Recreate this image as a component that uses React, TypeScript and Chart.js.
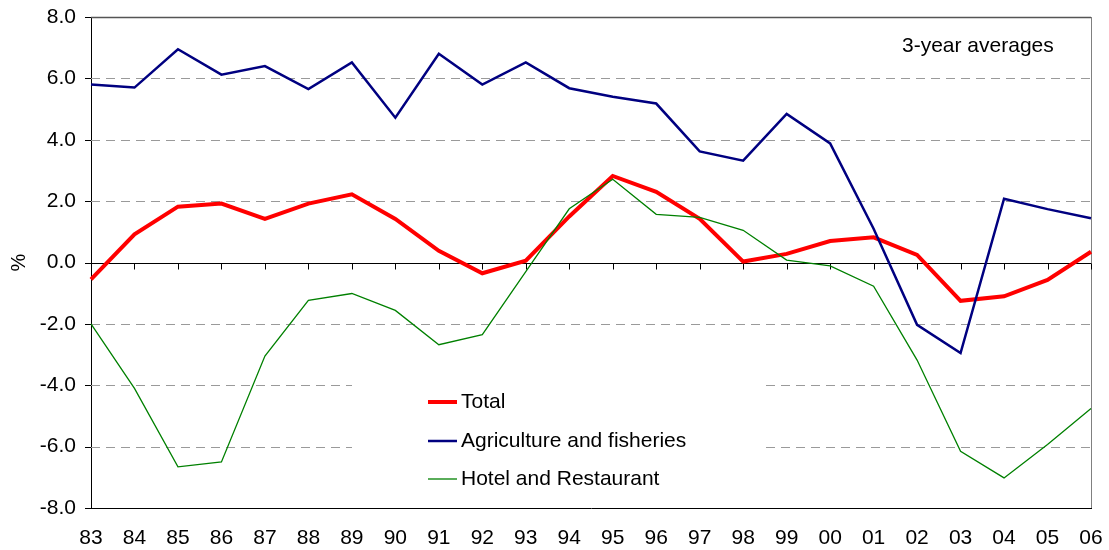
import React, { useEffect, useRef } from "react";
import { Chart, registerables } from "chart.js";

Chart.register(...registerables);

const years = ["83","84","85","86","87","88","89","90","91","92","93","94","95","96","97","98","99","00","01","02","03","04","05","06"];
const total = [-0.55,0.92,1.82,1.92,1.42,1.92,2.22,1.42,0.38,-0.35,0.06,1.5,2.82,2.3,1.42,0.03,0.28,0.7,0.82,0.25,-1.25,-1.1,-0.57,0.35];
const agriculture = [5.8,5.7,6.95,6.12,6.4,5.65,6.52,4.72,6.8,5.8,6.52,5.68,5.4,5.18,3.62,3.32,4.84,3.88,1.1,-2.03,-2.95,2.08,1.74,1.44];
const hotel = [-2.0,-4.1,-6.66,-6.5,-3.05,-1.23,-1.01,-1.56,-2.68,-2.35,-0.3,1.75,2.71,1.57,1.47,1.05,0.08,-0.11,-0.77,-3.18,-6.15,-7.02,-5.93,-4.76];
const yTicks = [-8, -6, -4, -2, 0, 2, 4, 6, 8];
const seriesNames = ["Total", "Agriculture and fisheries", "Hotel and Restaurant"];
const seriesColors = ["#FF0000", "#000080", "#008000"];
const seriesWidths = [4, 2.5, 1.3];
const noteText = "3-year averages";
const yTitle = "%";

const FONT = "'Liberation Sans', Arial, sans-serif";

const decorPlugin = {
  id: "decor",
  beforeDatasetsDraw(chart: any) {
    const { ctx, chartArea: a, scales } = chart;
    const y = scales.y;
    const x = scales.x;
    ctx.save();
    ctx.strokeStyle = "#9a9a9a";
    ctx.lineWidth = 1;
    ctx.setLineDash([9, 6]);
    yTicks.forEach((v) => {
      if (v === 0 || v === 8 || v === -8) return;
      const py = Math.round(y.getPixelForValue(v)) + 0.5;
      ctx.beginPath();
      ctx.moveTo(a.left, py);
      ctx.lineTo(a.right, py);
      ctx.stroke();
    });
    ctx.setLineDash([]);
    ctx.fillStyle = "#ffffff";
    ctx.fillRect(352, 372, 410, 126);
    ctx.strokeStyle = "#555555";
    ctx.lineWidth = 1.5;
    ctx.beginPath();
    ctx.moveTo(a.left, a.top + 0.5);
    ctx.lineTo(a.right, a.top + 0.5);
    ctx.stroke();
    ctx.strokeStyle = "#808080";
    ctx.lineWidth = 1;
    ctx.beginPath();
    ctx.moveTo(a.right + 0.5, a.top);
    ctx.lineTo(a.right + 0.5, a.bottom);
    ctx.stroke();
    const zy = Math.round(y.getPixelForValue(0)) + 0.5;
    ctx.strokeStyle = "#000000";
    ctx.lineWidth = 1;
    ctx.beginPath();
    ctx.moveTo(a.left, zy);
    ctx.lineTo(a.right, zy);
    years.forEach((_, i) => {
      const px = Math.round(x.getPixelForValue(i)) + 0.5;
      ctx.moveTo(px, zy);
      ctx.lineTo(px, zy + 6);
    });
    yTicks.forEach((v) => {
      const py = Math.round(y.getPixelForValue(v)) + 0.5;
      ctx.moveTo(a.left - 6, py);
      ctx.lineTo(a.left, py);
    });
    ctx.stroke();
    ctx.restore();
  },
  afterDraw(chart: any) {
    const { ctx, chartArea: a } = chart;
    ctx.save();
    ctx.fillStyle = "#000";
    ctx.textBaseline = "middle";
    ctx.font = "21px " + FONT;
    const ys = [402, 441, 479];
    seriesNames.forEach((n, i) => {
      ctx.strokeStyle = seriesColors[i];
      ctx.lineWidth = seriesWidths[i];
      ctx.beginPath();
      ctx.moveTo(428, ys[i]);
      ctx.lineTo(457, ys[i]);
      ctx.stroke();
      ctx.fillText(n, 461, ys[i]);
    });
    ctx.font = "21px " + FONT;
    ctx.textAlign = "left";
    ctx.fillText(noteText, 902, 46);
    ctx.translate(19, (a.top + a.bottom) / 2);
    ctx.rotate(-Math.PI / 2);
    ctx.textAlign = "center";
    ctx.font = "20px " + FONT;
    ctx.fillText(yTitle, 0, 0);
    ctx.restore();
  },
};

export default function App() {
  const ref = useRef<HTMLCanvasElement>(null);
  useEffect(() => {
    document.body.style.margin = "0";
    document.documentElement.style.overflow = "hidden";
    const chart = new Chart(ref.current!, {
      type: "line",
      data: {
        labels: years,
        datasets: [
          { label: seriesNames[0], data: total, borderColor: seriesColors[0], borderWidth: seriesWidths[0], order: 2 },
          { label: seriesNames[1], data: agriculture, borderColor: seriesColors[1], borderWidth: seriesWidths[1], order: 1 },
          { label: seriesNames[2], data: hotel, borderColor: seriesColors[2], borderWidth: seriesWidths[2], order: 0 },
        ].map((d) => ({ ...d, pointRadius: 0, tension: 0, fill: false, borderJoinStyle: "miter" as const })),
      },
      options: {
        animation: false,
        responsive: false,
        devicePixelRatio: 1,
        layout: { padding: { left: 0, top: 17, right: 18, bottom: 0 } },
        plugins: { legend: { display: false }, tooltip: { enabled: false } },
        scales: {
          x: {
            type: "category",
            offset: false,
            grid: { display: true, drawOnChartArea: false, drawTicks: true, tickLength: 18, color: "rgba(0,0,0,0)" },
            border: { display: true, color: "#000", width: 1 },
            ticks: { color: "#000", font: { family: FONT, size: 21 }, padding: 0, autoSkip: false, maxRotation: 0 },
            afterFit: (s: any) => { s.height = 42; },
          },
          y: {
            min: -8,
            max: 8,
            grid: { display: true, drawOnChartArea: false, drawTicks: true, tickLength: 15, color: "rgba(0,0,0,0)" },
            border: { display: true, color: "#000", width: 1 },
            ticks: { stepSize: 2, color: "#000", font: { family: FONT, size: 21 }, padding: 0, callback: (v: any) => Number(v).toFixed(1) },
            afterFit: (s: any) => { s.width = 91; },
          },
        },
      },
      plugins: [decorPlugin],
    });
    return () => chart.destroy();
  }, []);
  return (
    <div style={{ width: 1109, height: 550 }}>
      <canvas ref={ref} width={1109} height={550} style={{ display: "block" }} />
    </div>
  );
}
